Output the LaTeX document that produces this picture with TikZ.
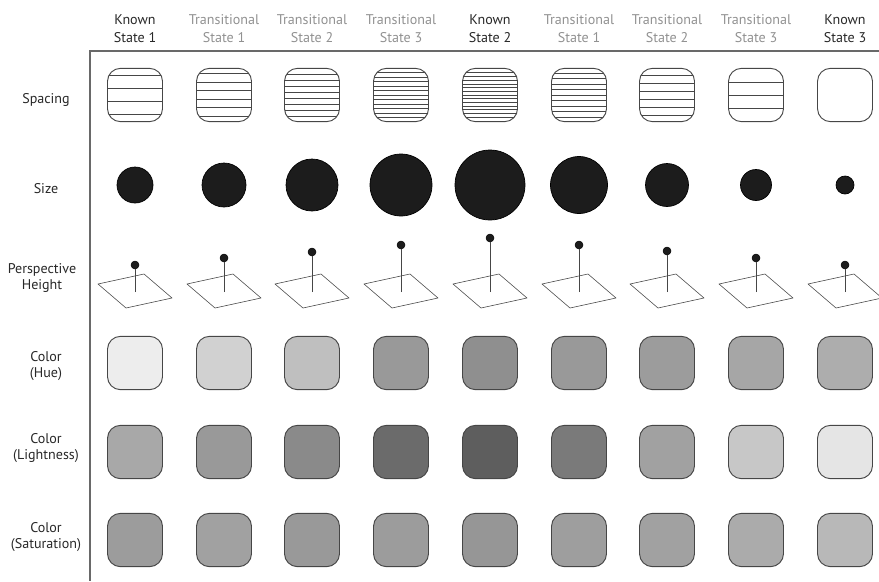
\documentclass[tikz,border=0pt]{standalone}
\usepackage{fontspec}
\setmainfont{PT Sans}
\usepackage{tikz}
\usetikzlibrary{
    positioning,
    calc
}
\definecolor{Cedge}{RGB}{70, 70, 70}
\definecolor{Caxis}{RGB}{105, 105, 105}
\definecolor{Cknown}{RGB}{40, 40, 40}
\definecolor{Ctrans}{RGB}{145, 145, 145}
\definecolor{Cblob}{RGB}{28, 28, 28}
\tikzset{
    known/.style={
        align=center, inner sep=0pt, text=Cknown,
        font=\fontsize{12}{15.5}\selectfont
    },
    trans/.style={known, text=Ctrans},
    rowlab/.style={
        align=center, inner sep=0pt, text=Cknown,
        font=\fontsize{12}{14}\selectfont
    },
    tile/.style={
        rectangle, rounded corners=0.39cm, draw=Cedge, line width=0.8pt,
        minimum width=1.65cm, minimum height=1.6cm, inner sep=0pt
    },
    hatch/.style={line width=0.6pt, Cedge},
    blob/.style={circle, draw=black, fill=Cblob, line width=0.6pt, inner sep=0pt},
    ball/.style={circle, draw=black, fill=Cblob, minimum size=0.24cm, inner sep=0pt},
    stick/.style={line width=0.6pt, Cedge},
    plane/.style={line width=0.5pt, Cedge, line join=round},
    axisline/.style={line width=1.1pt, Caxis},
}

\begin{document}
\begin{tikzpicture}[x=0.03cm, y=-0.03cm]
    \useasboundingbox (0,0) rectangle (879,581);

    % ── axes ─────────────────────────────────────────────
    \coordinate (corner) at (90,51);
    \coordinate (xend) at (879,51);
    \coordinate (yend) at (90,581);
    \draw [axisline] (xend) -- (corner) -- (yend);

    % ── column heads ─────────────────────────────────────
    \foreach \cx/\txt/\sty [count=\i] in {
        135/{Known\\State 1}/known, 224/{Transitional\\State 1}/trans,
        312/{Transitional\\State 2}/trans, 401/{Transitional\\State 3}/trans,
        490/{Known\\State 2}/known, 579/{Transitional\\State 1}/trans,
        667/{Transitional\\State 2}/trans, 756/{Transitional\\State 3}/trans,
        845/{Known\\State 3}/known}
        \node [\sty] (head\i) at (\cx,29) {\txt};

    % ── row labels ───────────────────────────────────────
    \node [rowlab] (lspacing) at (46,100) {Spacing};
    \node [rowlab] (lsize) at (46,189) {Size};
    \node [rowlab] (lheight) at (42,278) {Perspective\\Height};
    \node [rowlab] (lhue) at (46,366) {Color\\(Hue)};
    \node [rowlab] (llight) at (46,448) {Color\\(Lightness)};
    \node [rowlab] (lsat) at (46,537) {Color\\(Saturation)};

    % ── spacing ──────────────────────────────────────────
    \foreach \cx/\n/\s [count=\i] in {135/4/13, 224/6/8.5, 312/8/6, 401/11/4.5,
        490/13/3.7, 579/9/5.5, 667/6/8, 756/3/13, 845/0/0}
        \node [tile, path picture={
            \ifnum\n>0
            \foreach \k in {1,...,\n}{
                \pgfmathsetmacro\dy{(\k-(\n+1)/2)*\s*0.03}
                \draw [hatch] ([yshift=\dy cm]path picture bounding box.west)
                    -- ([yshift=\dy cm]path picture bounding box.east);
            }\fi
        }] (sp\i) at (\cx,95) {};

    % ── size ─────────────────────────────────────────────
    \foreach \cx/\d [count=\i] in {135/36, 224/44, 312/52, 401/62, 490/70,
        579/57, 667/43, 756/31, 845/18}{
        \pgfmathsetmacro\dd{\d*0.03}
        \node [blob, minimum size=\dd cm] (sz\i) at (\cx,185) {};
    }

    % ── perspective height ───────────────────────────────
    \foreach \cx/\by [count=\i] in {135/265, 224/258, 312/252, 401/245,
        490/238, 579/245, 667/251, 756/258, 845/265}{
        \draw [plane] (\cx-37,284) -- (\cx+9,274) -- (\cx+37,298)
            -- (\cx-9,308) -- cycle;
        \coordinate (foot\i) at (\cx,292);
        \node [ball] (ball\i) at (\cx,\by) {};
        \draw [stick] (foot\i) -- (ball\i);
    }

    % ── colour rows ──────────────────────────────────────
    \foreach \cx/\g [count=\i] in {135/7, 224/18, 312/25, 401/40, 490/44,
        579/40, 667/39, 756/35, 845/32}
        \node [tile, fill=black!\g] (hue\i) at (\cx,363) {};
    \foreach \cx/\g [count=\i] in {135/34, 224/40, 312/46, 401/58, 490/63,
        579/52, 667/37, 756/22, 845/10}
        \node [tile, fill=black!\g] (light\i) at (\cx,452) {};
    \foreach \cx/\g [count=\i] in {135/39, 224/37, 312/40, 401/39, 490/41,
        579/38, 667/37, 756/33, 845/28}
        \node [tile, fill=black!\g] (sat\i) at (\cx,540) {};

\end{tikzpicture}
\end{document}
